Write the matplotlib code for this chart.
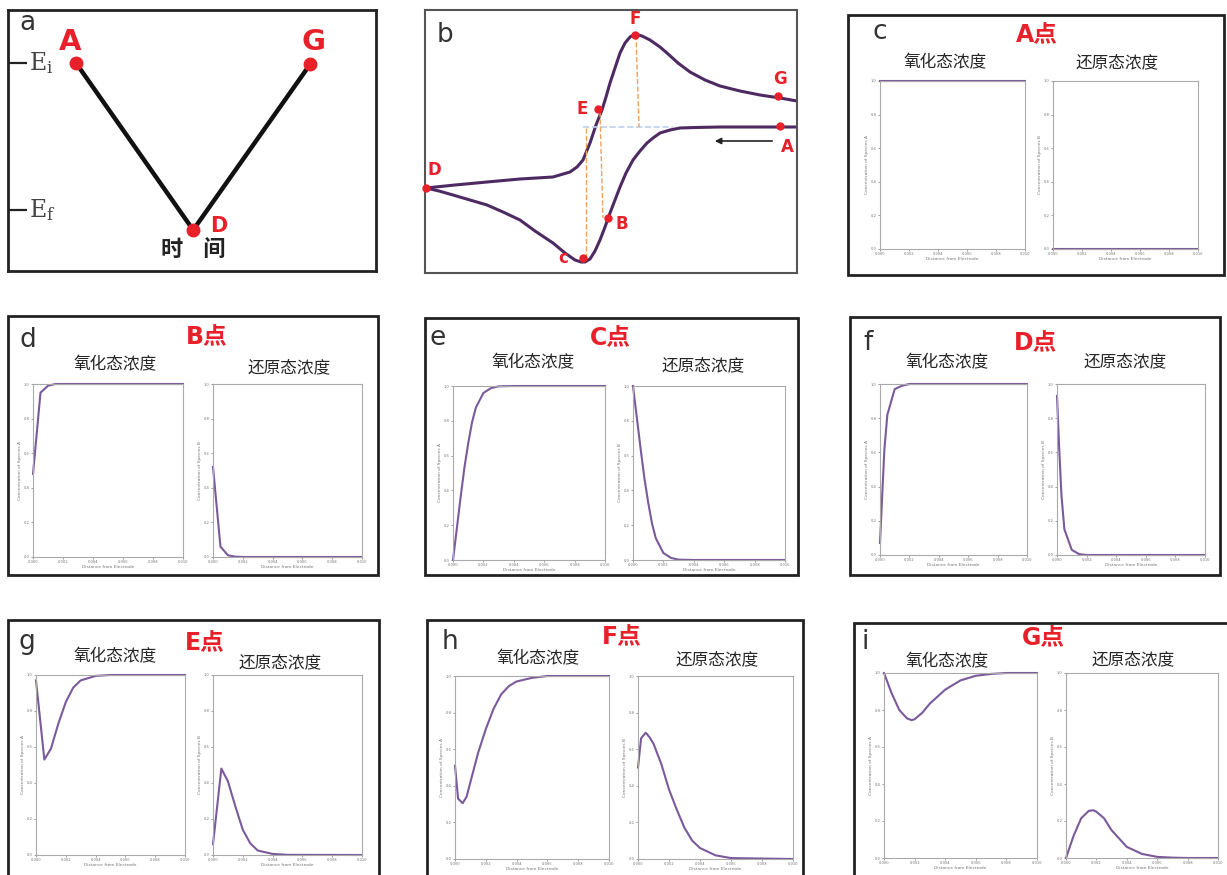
import matplotlib
matplotlib.use('Agg')
import matplotlib.pyplot as plt
from matplotlib.patches import Rectangle

plt.rcParams['font.family'] = ['Noto Sans CJK SC', 'DejaVu Sans']

# ---- panel a: potential waveform (time, potential) ----
wave_t = [0, 1, 2]
wave_e = [1.0, -0.136, 0.993]
wave_labels = ['A', 'D', 'G']

# ---- panel b: cyclic voltammogram (arbitrary units) ----
fwd_e = [372, 330, 295, 270, 255, 245, 235, 228, 222, 215, 208, 201, 195, 190, 185, 180,
         175, 170, 165, 160, 156, 150, 140, 128, 110, 95, 78, 62, 45, 28, 14, 1]
fwd_i = [146, 146, 146, 145.5, 145, 143, 140, 135, 130, 122, 113, 100, 86, 73, 60, 46,
         33, 22, 14, 11, 11, 13, 20, 30, 42, 53, 61, 68, 73, 78, 82, 85]
rev_e = [1, 30, 62, 95, 128, 145, 152, 158, 165, 171, 177, 181, 185, 190, 195, 200, 205,
         210, 217, 225, 235, 242, 253, 265, 280, 295, 315, 335, 355, 372]
rev_i = [85, 88, 91, 94, 96, 101, 106, 113, 130, 148, 163, 176, 190, 205, 220, 230, 236,
         239, 237, 233, 226, 220, 210, 201, 193, 187, 182, 178, 175, 172]
cv_pts = {'A': (355, 147), 'B': (183, 55), 'c': (158, 15), 'D': (1, 85),
          'E': (173, 164), 'F': (210, 238), 'G': (353, 177)}

# ---- concentration profiles (distance from electrode, concentration) ----
dist_A = [0, 0.01]
ox_A = [1.0, 1.0]
red_A = [0.0, 0.0]

dist_B = [0, 0.0005, 0.001, 0.0015, 0.002, 0.01]
ox_B = [0.48, 0.95, 0.99, 1.0, 1.0, 1.0]
red_B = [0.52, 0.06, 0.01, 0.002, 0.0, 0.0]

dist_C = [0, 0.00025, 0.0005, 0.00075, 0.001, 0.00125, 0.0015, 0.002, 0.0025, 0.003, 0.004, 0.01]
ox_C = [0.0, 0.18, 0.36, 0.53, 0.67, 0.79, 0.875, 0.96, 0.988, 0.998, 1.0, 1.0]
red_C = [1.0, 0.82, 0.64, 0.47, 0.33, 0.21, 0.125, 0.04, 0.012, 0.002, 0.0, 0.0]

dist_D = [0, 0.00015, 0.0003, 0.0005, 0.001, 0.0015, 0.002, 0.01]
ox_D = [0.07, 0.35, 0.62, 0.82, 0.97, 0.99, 1.0, 1.0]
red_D = [0.93, 0.62, 0.35, 0.15, 0.03, 0.005, 0.0, 0.0]

dist_E = [0, 0.00056, 0.001, 0.0015, 0.002, 0.0025, 0.003, 0.004, 0.005, 0.01]
ox_E = [0.97, 0.53, 0.59, 0.73, 0.85, 0.93, 0.97, 0.995, 1.0, 1.0]
red_E = [0.06, 0.48, 0.41, 0.27, 0.14, 0.065, 0.025, 0.006, 0.001, 0.0]

dist_F = [0, 0.0002, 0.0005, 0.00075, 0.001, 0.0015, 0.002, 0.0025, 0.003, 0.0035, 0.004, 0.005, 0.006, 0.01]
ox_F = [0.51, 0.33, 0.305, 0.34, 0.42, 0.58, 0.71, 0.82, 0.9, 0.945, 0.97, 0.99, 1.0, 1.0]
red_F = [0.5, 0.66, 0.69, 0.665, 0.63, 0.52, 0.38, 0.27, 0.17, 0.1, 0.06, 0.02, 0.005, 0.0]

dist_G = [0, 0.0005, 0.001, 0.0015, 0.0018, 0.002, 0.0025, 0.003, 0.004, 0.005, 0.006, 0.007, 0.008, 0.01]
ox_G = [1.0, 0.89, 0.80, 0.755, 0.745, 0.75, 0.785, 0.835, 0.91, 0.96, 0.985, 0.995, 1.0, 1.0]
red_G = [0.0, 0.12, 0.215, 0.255, 0.258, 0.25, 0.215, 0.15, 0.06, 0.022, 0.006, 0.002, 0.0, 0.0]

W, H = 1227, 875
RED = '#e8202a'
PURPLE = '#7b5a9c'


def rect(x0, y0, x1, y1):
    return [x0 / W, 1 - y1 / H, (x1 - x0) / W, (y1 - y0) / H]


def ftext(x, y, s, **kw):
    fig.text(x / W, 1 - y / H, s, ha='center', va='center', **kw)


def frame(x0, y0, x1, y1, lw=2.0, ec='#222222'):
    fig.add_artist(Rectangle((x0 / W, 1 - y1 / H), (x1 - x0) / W, (y1 - y0) / H,
                             transform=fig.transFigure, fill=False, lw=lw, ec=ec))


def profile(r, x, y, species):
    ax = fig.add_axes(rect(*r))
    ax.plot(x, y, color=PURPLE, lw=1.5, clip_on=False)
    ax.set_xlim(0, 0.01)
    ax.set_ylim(0, 1.0)
    ax.set_xticks([0, 0.002, 0.004, 0.006, 0.008, 0.010])
    ax.set_xticklabels(['0.000', '0.002', '0.004', '0.006', '0.008', '0.010'])
    ax.set_yticks([0, 0.2, 0.4, 0.6, 0.8, 1.0])
    ax.set_yticklabels(['0.0', '0.2', '0.4', '0.6', '0.8', '1.0'])
    ax.tick_params(labelsize=3, length=1.5, width=0.5, pad=1, colors='#777777')
    for s in ax.spines.values():
        s.set_color('#aaaaaa')
        s.set_linewidth(0.8)
    ax.set_xlabel('Distance from Electrode', fontsize=3.2, color='#777777', labelpad=0.5,
                  family='DejaVu Sans')
    ax.set_ylabel('Concentration of Species ' + species, fontsize=3.2, color='#777777',
                  labelpad=1, family='DejaVu Sans')


fig = plt.figure(figsize=(W / 100, H / 100), dpi=100)

# ---------------- panel a ----------------
axa = fig.add_axes(rect(8, 10, 376, 271))
axa.plot(wave_t, wave_e, color='#111111', lw=3.2, solid_capstyle='round')
axa.plot(wave_t, wave_e, 'o', color=RED, ms=9, zorder=3)
axa.set_xlim(-0.58, 2.56)
axa.set_ylim(-0.415, 1.36)
axa.set_xticks([])
axa.set_yticks([0, 1])
axa.set_yticklabels([])
axa.tick_params(axis='y', direction='in', length=14, width=1.6, color='#222222')
for s in axa.spines.values():
    s.set_linewidth(2)
    s.set_color('#222222')
axa.text(-0.40, 1.0, r'$\mathregular{E_i}$', fontsize=17, family='DejaVu Serif',
         color='#444444', va='center', ha='left')
axa.text(-0.40, 0.0, r'$\mathregular{E_f}$', fontsize=17, family='DejaVu Serif',
         color='#444444', va='center', ha='left')
axa.text(wave_t[0] - 0.05, wave_e[0] + 0.145, wave_labels[0], color=RED, fontsize=21,
         fontweight='bold', ha='center', va='center', family='DejaVu Sans')
axa.text(wave_t[2] + 0.03, wave_e[2] + 0.15, wave_labels[2], color=RED, fontsize=21,
         fontweight='bold', ha='center', va='center', family='DejaVu Sans')
axa.text(wave_t[1] + 0.22, wave_e[1] + 0.03, wave_labels[1], color=RED, fontsize=15,
         fontweight='bold', ha='center', va='center', family='DejaVu Sans')
axa.text(wave_t[1], -0.27, '时    间', fontsize=16, fontweight='bold', ha='center',
         va='center', color='#222222')
axa.text(-0.48, 1.27, 'a', fontsize=19, ha='left', va='center', color='#333333',
         family='DejaVu Sans')

# ---------------- panel b ----------------
axb = fig.add_axes(rect(425, 10, 797, 273))
axb.plot(fwd_e, fwd_i, color='#4e2a63', lw=2.2)
axb.plot(rev_e, rev_i, color='#4e2a63', lw=2.2)
axb.plot([158, 248], [146, 146], ls='--', color='#bcd0ea', lw=1.2)
axb.plot([175, 178], [161, 55], ls='--', color='#f0a060', lw=1.0)
axb.plot([211, 214], [238, 146], ls='--', color='#f0a060', lw=1.0)
axb.plot([161, 161], [145, 15], ls='--', color='#f0a060', lw=1.0)
axb.annotate('', xy=(287, 132), xytext=(350, 132),
             arrowprops=dict(arrowstyle='-|>', color='#222222', lw=1.2, mutation_scale=9))
for k, (pe, pi) in cv_pts.items():
    axb.plot(pe, pi, 'o', color=RED, ms=5, zorder=4, clip_on=False)
lab_off = {'A': (7, -21), 'B': (14, -6), 'c': (-20, 0), 'D': (8, 18),
           'E': (-16, 0), 'F': (0, 16), 'G': (2, 17)}
for k, (dx, dy) in lab_off.items():
    pe, pi = cv_pts[k]
    axb.text(pe + dx, pi + dy, k, color=RED, fontsize=12, fontweight='bold',
             ha='center', va='center', family='DejaVu Sans')
axb.set_xlim(0, 372)
axb.set_ylim(0, 263)
axb.set_xticks([])
axb.set_yticks([])
for s in axb.spines.values():
    s.set_linewidth(1.5)
    s.set_color('#555555')
axb.text(12, 238, 'b', fontsize=19, ha='left', va='center', color='#333333',
         family='DejaVu Sans')

# ---------------- panels c - i ----------------
panels = [
    ('c', 'A点', (848, 15, 1224, 275), (880, 32), (1037, 35), (945, 63), (1117, 63),
     (880, 81, 1025, 249), (1053, 81, 1198, 249), dist_A, ox_A, red_A),
    ('d', 'B点', (8, 316, 378, 575), (28, 340), (207, 337), (115, 365), (289, 368),
     (33, 384, 183, 557), (213, 384, 362, 557), dist_B, ox_B, red_B),
    ('e', 'C点', (425, 318, 798, 575), (438, 338), (610, 338), (533, 363), (703, 366),
     (453, 386, 605, 560), (633, 386, 785, 560), dist_C, ox_C, red_C),
    ('f', 'D点', (850, 317, 1220, 575), (868, 343), (1035, 343), (947, 363), (1125, 362),
     (880, 384, 1027, 555), (1057, 384, 1205, 555), dist_D, ox_D, red_D),
    ('g', 'E点', (8, 620, 379, 890), (27, 642), (205, 643), (115, 657), (280, 663),
     (36, 675, 185, 855), (213, 675, 362, 855), dist_E, ox_E, red_E),
    ('h', 'F点', (427, 620, 803, 890), (450, 642), (622, 637), (538, 659), (717, 660),
     (455, 676, 609, 859), (638, 676, 793, 859), dist_F, ox_F, red_F),
    ('i', 'G点', (854, 623, 1240, 890), (865, 642), (1043, 638), (947, 662), (1133, 660),
     (884, 673, 1037, 858), (1066, 673, 1218, 858), dist_G, ox_G, red_G),
]

for (letter, pt, fr, lpos, ppos, otpos, rtpos, lrect, rrect, d, ox, red) in panels:
    frame(*fr)
    ftext(*lpos, letter, fontsize=19, color='#333333', family='DejaVu Sans')
    ftext(*ppos, pt, fontsize=17, color=RED, fontweight='bold',
          family=['DejaVu Sans', 'Noto Sans CJK SC'])
    ftext(*otpos, '氧化态浓度', fontsize=12, color='#262626')
    ftext(*rtpos, '还原态浓度', fontsize=12, color='#262626')
    profile(lrect, d, ox, 'A')
    profile(rrect, d, red, 'B')

fig.savefig('out.png', dpi=100)
